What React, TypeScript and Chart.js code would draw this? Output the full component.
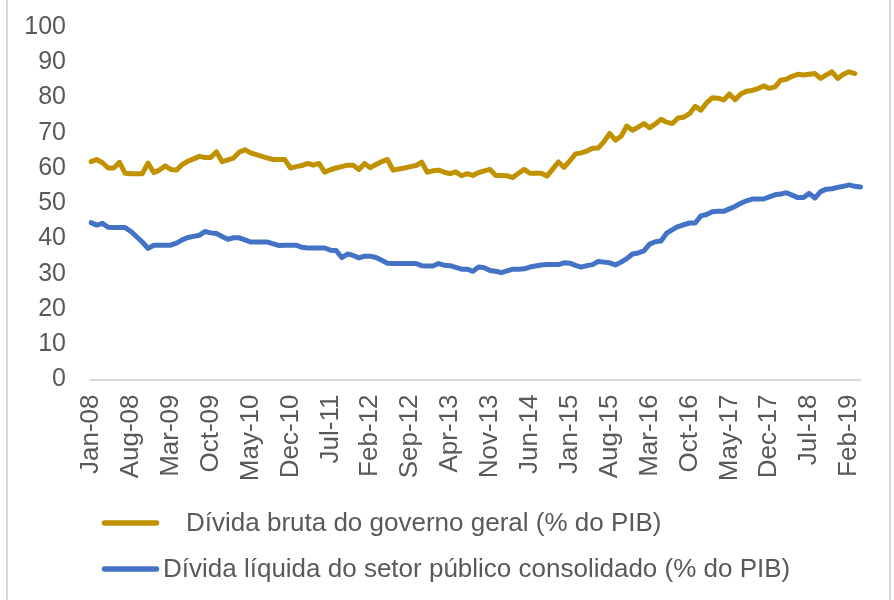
import React, { useEffect, useRef } from "react";
import { Chart, registerables } from "chart.js";

Chart.register(...registerables);

const MONTHS = ["Jan", "Feb", "Mar", "Apr", "May", "Jun", "Jul", "Aug", "Sep", "Oct", "Nov", "Dec"];
const START_YEAR = 2008;
const N_MONTHS = 136; // Jan-08 .. Apr-19
const LABEL_STEP = 7;

const labels: string[] = [];
for (let i = 0; i < N_MONTHS; i++) {
  const y = START_YEAR + Math.floor(i / 12);
  labels.push(MONTHS[i % 12] + "-" + String(y % 100).padStart(2, "0"));
}

const grossLabel = "Dívida bruta do governo geral (% do PIB)";
const netLabel = "Dívida líquida do setor público consolidado (% do PIB)";

const grossDebt = [
  61.8, 62.4, 61.5, 60.0, 60.0, 61.6, 58.5, 58.4, 58.4, 58.4,
  61.4, 58.7, 59.4, 60.6, 59.6, 59.4, 61.0, 61.9, 62.6, 63.3,
  63.0, 63.0, 64.6, 61.8, 62.3, 62.8, 64.5, 65.2, 64.3, 63.8,
  63.3, 62.8, 62.4, 62.4, 62.4, 60.0, 60.4, 60.7, 61.3, 60.8,
  61.3, 58.8, 59.5, 60.0, 60.4, 60.8, 60.8, 59.6, 61.3, 60.1,
  61.0, 61.8, 62.4, 59.4, 59.7, 60.0, 60.4, 60.7, 61.7, 58.8,
  59.2, 59.4, 58.8, 58.4, 58.9, 57.8, 58.4, 57.9, 58.7, 59.2,
  59.6, 57.9, 57.9, 57.8, 57.3, 58.5, 59.6, 58.5, 58.5, 58.5,
  57.7, 59.7, 61.7, 60.2, 62.0, 64.0, 64.3, 64.8, 65.6, 65.7,
  67.5, 69.8, 67.9, 69.0, 71.9, 70.7, 71.6, 72.6, 71.4, 72.5,
  73.8, 73.0, 72.6, 74.2, 74.4, 75.4, 77.5, 76.4, 78.5, 79.9,
  79.8, 79.3, 81.0, 79.4, 81.0, 81.8, 82.0, 82.5, 83.3, 82.6,
  83.0, 84.9, 85.2, 86.0, 86.6, 86.4, 86.6, 86.8, 85.4, 86.4,
  87.3, 85.4, 86.6, 87.3, 86.8,
];

const netDebt = [
  44.5, 43.8, 44.3, 43.2, 43.1, 43.1, 43.1, 42.0, 40.5, 39.0,
  37.2, 38.1, 38.1, 38.1, 38.1, 38.7, 39.6, 40.3, 40.6, 40.9,
  42.0, 41.6, 41.4, 40.6, 39.8, 40.2, 40.2, 39.6, 39.0, 39.0,
  39.0, 39.0, 38.5, 38.0, 38.1, 38.1, 38.1, 37.5, 37.3, 37.3,
  37.3, 37.3, 36.7, 36.6, 34.6, 35.6, 35.2, 34.5, 35.0, 35.0,
  34.6, 33.8, 33.0, 32.9, 32.9, 32.9, 32.9, 32.9, 32.3, 32.2,
  32.2, 32.9, 32.4, 32.3, 31.8, 31.3, 31.3, 30.7, 31.9, 31.7,
  30.9, 30.7, 30.3, 30.8, 31.3, 31.3, 31.4, 31.9, 32.2, 32.5,
  32.6, 32.6, 32.6, 33.1, 33.0, 32.4, 31.9, 32.3, 32.6, 33.5,
  33.3, 33.1, 32.5, 33.3, 34.3, 35.6, 35.9, 36.5, 38.4, 39.1,
  39.3, 41.5, 42.5, 43.4, 43.9, 44.4, 44.4, 46.4, 46.8, 47.6,
  47.7, 47.7, 48.4, 49.1, 50.0, 50.7, 51.2, 51.2, 51.2, 51.8,
  52.4, 52.6, 53.0, 52.3, 51.6, 51.6, 52.8, 51.5, 53.3, 54.0,
  54.1, 54.5, 54.8, 55.2, 54.8, 54.6,
];

const GOLD = "#C09200";
const BLUE = "#4472C4";
const TEXT = "#595959";
const AXIS = "#D9D9D9";
const FONT = "'Liberation Sans', Arial, sans-serif";

const legendPlugin = {
  id: "customLegend",
  afterDraw(chart: any) {
    const ctx = chart.ctx;
    const rows = [
      { ds: 0, x0: 102, x1: 159, y: 523, tx: 186 },
      { ds: 1, x0: 102, x1: 159, y: 569, tx: 163 },
    ];
    ctx.save();
    for (const r of rows) {
      const ds = chart.data.datasets[r.ds];
      ctx.strokeStyle = ds.borderColor;
      ctx.lineWidth = 5.5;
      ctx.lineCap = "round";
      ctx.beginPath();
      ctx.moveTo(r.x0 + 2.5, r.y);
      ctx.lineTo(r.x1 - 2.5, r.y);
      ctx.stroke();
      ctx.fillStyle = TEXT;
      ctx.font = `26px ${FONT}`;
      ctx.textAlign = "left";
      ctx.textBaseline = "middle";
      ctx.fillText(ds.label, r.tx, r.y + 1);
    }
    ctx.restore();
  },
};

export default function App() {
  const ref = useRef<HTMLCanvasElement | null>(null);

  useEffect(() => {
    if (!ref.current) return;
    const chart = new Chart(ref.current, {
      type: "line",
      data: {
        labels,
        datasets: [
          {
            label: grossLabel,
            data: grossDebt,
            borderColor: GOLD,
            backgroundColor: GOLD,
            borderWidth: 5,
            pointRadius: 0,
            tension: 0,
            borderJoinStyle: "round",
            borderCapStyle: "round",
            fill: false,
          },
          {
            label: netLabel,
            data: netDebt,
            borderColor: BLUE,
            backgroundColor: BLUE,
            borderWidth: 5,
            pointRadius: 0,
            tension: 0,
            borderJoinStyle: "round",
            borderCapStyle: "round",
            fill: false,
          },
        ],
      },
      options: {
        responsive: false,
        devicePixelRatio: 1,
        animation: false,
        layout: { padding: { left: 0, right: 33.5, top: 27, bottom: 100.5 } },
        scales: {
          x: {
            type: "category",
            grid: { display: false, drawTicks: false },
            border: { display: true, color: AXIS, width: 2 },
            ticks: {
              autoSkip: false,
              minRotation: 90,
              maxRotation: 90,
              padding: 15,
              color: TEXT,
              font: { family: FONT, size: 26 },
              callback: (_v: any, i: number) => (i % LABEL_STEP === 0 ? labels[i] : ""),
            },
            afterFit: (s: any) => {
              s.height = 120;
              s.paddingLeft = 0;
              s.paddingRight = 0;
            },
          },
          y: {
            min: 0,
            max: 100,
            grid: { display: false, drawTicks: false },
            border: { display: false },
            ticks: {
              stepSize: 10,
              padding: 25,
              color: TEXT,
              font: { family: FONT, size: 25 },
            },
            afterFit: (s: any) => {
              s.width = 91;
              s.paddingTop = 0;
              s.paddingBottom = 0;
            },
          },
        },
        plugins: {
          legend: { display: false },
          tooltip: { enabled: false },
        },
      },
      plugins: [legendPlugin],
    });
    return () => chart.destroy();
  }, []);

  return (
    <div style={{ position: "fixed", left: 0, top: 0, width: 894, height: 600, background: "#fff" }}>
      <div style={{ position: "absolute", left: 6, top: 0, width: 2, height: 600, background: AXIS }} />
      <div style={{ position: "absolute", left: 889, top: 0, width: 2, height: 600, background: AXIS }} />
      <canvas ref={ref} width={894} height={600} style={{ position: "absolute", left: 0, top: 0, width: 894, height: 600 }} />
    </div>
  );
}
